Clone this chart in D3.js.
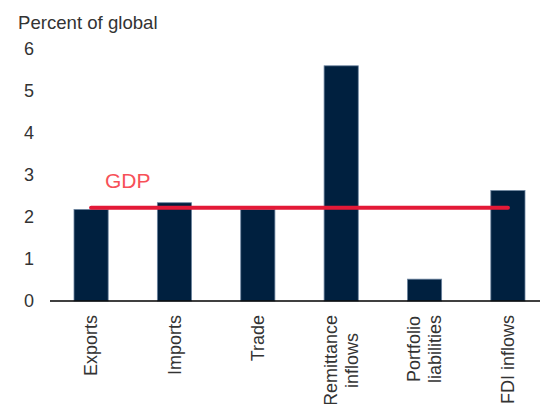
<!DOCTYPE html>
<html>
<head>
<meta charset="utf-8">
<script src="https://cdn.jsdelivr.net/npm/d3@7/dist/d3.min.js"></script>
<style>
  html, body { margin: 0; padding: 0; background: #fff; }
  svg { display: block; }
  text { font-family: "Liberation Sans", Arial, sans-serif; }
</style>
</head>
<body>
<svg id="chart" width="540" height="404"></svg>
<script>
const categories = [["Exports"], ["Imports"], ["Trade"], ["Remittance", "inflows"], ["Portfolio", "liabilities"], ["FDI inflows"]];
const values = [2.18, 2.34, 2.18, 5.6, 0.52, 2.63];
const gdpValue = 2.22;
const yTicks = [0, 1, 2, 3, 4, 5, 6];
const yTitle = "Percent of global";
const gdpLabel = "GDP";

const svg = d3.select("#chart");
const keys = categories.map(c => c.join(" "));

const x = d3.scaleBand().domain(keys).range([74, 525]).paddingInner(0.59).paddingOuter(0);
const y = d3.scaleLinear().domain([0, 6]).range([301, 49]);

// title
svg.append("text").attr("x", 18).attr("y", 29)
  .attr("font-size", 18.6).attr("fill", "#333").text(yTitle);

// y tick labels
svg.append("g").selectAll("text").data(yTicks).join("text")
  .attr("x", 34).attr("y", d => y(d)).attr("dy", "0.35em")
  .attr("text-anchor", "end").attr("font-size", 18).attr("fill", "#333")
  .text(d => d);

// bars
svg.append("g").selectAll("rect").data(values).join("rect")
  .attr("x", (d, i) => x(keys[i]))
  .attr("width", x.bandwidth())
  .attr("y", d => y(d))
  .attr("height", d => y(0) - y(d))
  .attr("fill", "#00203f")
  .attr("stroke", "#6d85a0").attr("stroke-width", 0.8);

// axis line
svg.append("line").attr("x1", 50).attr("x2", 540).attr("y1", y(0)).attr("y2", y(0))
  .attr("stroke", "#000").attr("stroke-width", 1.5);

// GDP line
svg.append("line")
  .attr("x1", x(keys[0]) + x.bandwidth() / 2)
  .attr("x2", x(keys[keys.length - 1]) + x.bandwidth() / 2)
  .attr("y1", y(gdpValue)).attr("y2", y(gdpValue))
  .attr("stroke", "#e31937").attr("stroke-width", 4).attr("stroke-linecap", "round");

svg.append("text").attr("x", 105).attr("y", 188)
  .attr("font-size", 21).attr("fill", "#f75058").text(gdpLabel);

// x labels (rotated)
const lblTop = 315;
const lineGap = 21;
categories.forEach((lines, i) => {
  const cx = x(keys[i]) + x.bandwidth() / 2;
  const g = svg.append("g");
  const texts = lines.map((l, j) => {
    const off = (j - (lines.length - 1) / 2) * lineGap;
    return g.append("text")
      .attr("font-size", 18).attr("fill", "#333")
      .attr("text-anchor", "middle").attr("dy", "0.35em")
      .datum(cx + off)
      .text(l);
  });
  const maxLen = d3.max(texts, t => t.node().getComputedTextLength());
  const cy = lblTop + maxLen / 2;
  texts.forEach(t => {
    const tx = t.datum();
    t.attr("transform", `translate(${tx},${cy}) rotate(-90)`);
  });
});
</script>
</body>
</html>
